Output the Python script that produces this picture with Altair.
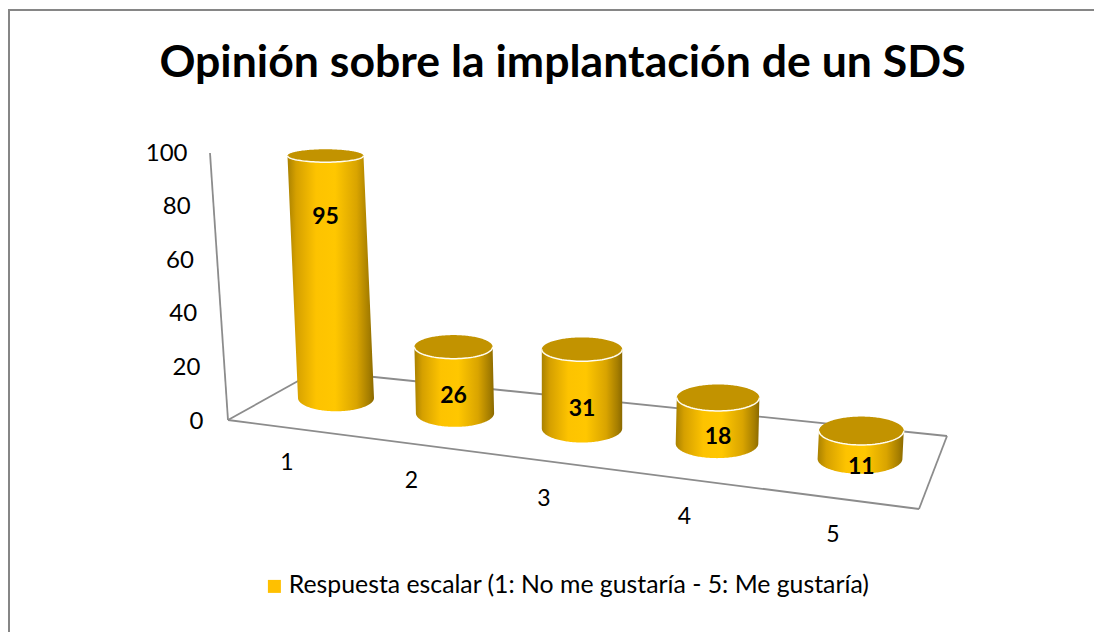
import math
import altair as alt
import pandas as pd

categories = ["1", "2", "3", "4", "5"]
values = [95, 26, 31, 18, 11]
y_ticks = [0, 20, 40, 60, 80, 100]
series_name = "Respuesta escalar (1: No me gustaría - 5: Me gustaría)"
title_text = "Opinión sobre la implantación de un SDS"

FONT = "Lato"
GOLD = "#ffc000"
LID = "#c29300"
LINE = "#8c8c8c"

# page-pixel frame of the 3D projection
PAGE_R, PAGE_B = 1094, 632
ZERO_Y, PX_PER_AXIS_UNIT = 421, 2.68
BAR_PX_PER_UNIT = 2.55
LABEL_LIFT = [181, 17, 19, 7, -8]


def v(py):
    return (ZERO_Y - py) / PX_PER_AXIS_UNIT


def base_x(i):
    return 336 + 119 * i + 4 * i * (i - 1)


def base_y(i):
    return 398 + 15.2 * i


def rx(i):
    return 38 + 1.1 * i


def ry(py):
    return 6.5 + (py - 157) * 0.028


def top_x(i, val):
    return base_x(i) + (base_x(i) - 582) * 0.00045 * val


def top_y(i, val):
    return base_y(i) - BAR_PX_PER_UNIT * val


N = 48
body, lid, rim, labels, ticks = [], [], [], [], []
for i, (cat, val) in enumerate(zip(categories, values)):
    bx, by, tx, ty = base_x(i), base_y(i), top_x(i, val), top_y(i, val)
    r, rb, rt = rx(i), ry(by), ry(ty)
    ys = [ty + (by - ty) * k / N for k in range(N + 1)]
    ys += [by + rb * math.sin(math.pi / 2 * k / N) for k in range(1, N + 1)]
    for py in ys:
        if py <= by:
            cx = tx + (bx - tx) * (py - ty) / max(by - ty, 1)
            hw = r
        else:
            cx = bx
            hw = r * math.sqrt(max(0.0, 1 - ((py - by) / rb) ** 2))
        body.append(dict(cat=cat, y=v(py), x=cx - hw, x2=cx + hw))
    for k in range(N * 2 + 1):
        a = -math.pi / 2 + math.pi * k / (N * 2)
        py = ty + rt * math.sin(a)
        hw = r * math.cos(a)
        lid.append(dict(cat=cat, y=v(py), x=tx - hw, x2=tx + hw))
    for k in range(N + 1):
        a = math.pi * k / N
        rim.append(dict(cat=cat, k=k, y=v(ty + rt * math.sin(a)), x=tx + r * math.cos(a)))
    labels.append(dict(x=tx, y=v(by - LABEL_LIFT[i]), text=str(val)))
    ticks.append(dict(x=bx - 49 + 5.5 * i, y=v(463 + 18 * i), text=cat))

x_scale = alt.Scale(domain=[8, PAGE_R], range=[0, PAGE_R - 8], nice=False, zero=False)
y_scale = alt.Scale(domain=[v(PAGE_B), v(8)], nice=False, zero=False)
X = alt.X("x:Q", scale=x_scale, axis=None)
X2 = alt.X2("x2:Q")
Y = alt.Y(
    "y:Q",
    scale=y_scale,
    title=None,
    axis=alt.Axis(
        values=y_ticks,
        orient="left",
        offset=-212,
        domain=False,
        ticks=False,
        grid=False,
        labelFont=FONT,
        labelFontSize=24,
        labelColor="black",
        labelPadding=alt.ExprRef("17 + datum.value * 0.16"),
    ),
)

frame_df = pd.DataFrame([
    dict(x=9, x2=9, y=v(9), y2=v(PAGE_B)),
    dict(x=8, x2=PAGE_R, y=v(10), y2=v(10)),
])
frame = alt.Chart(frame_df).mark_rule(color="#868686", strokeWidth=2).encode(
    x=X, x2=X2, y=Y, y2="y2:Q"
)

floor_df = pd.DataFrame([
    dict(x=210, x2=228, y=v(153), y2=v(420)),
    dict(x=228, x2=316, y=v(420), y2=v(371)),
    dict(x=316, x2=947, y=v(371), y2=v(436)),
    dict(x=947, x2=919, y=v(436), y2=v(509)),
    dict(x=919, x2=228, y=v(509), y2=v(420)),
])
floor = alt.Chart(floor_df).mark_rule(color=LINE, strokeWidth=1.8).encode(
    x=X, x2=X2, y=Y, y2="y2:Q"
)

gold = alt.Gradient(
    gradient="linear", x1=0, x2=1, y1=0, y2=0,
    stops=[
        alt.GradientStop(offset=0, color="#a98100"),
        alt.GradientStop(offset=0.1, color="#d5a000"),
        alt.GradientStop(offset=0.33, color="#fdc300"),
        alt.GradientStop(offset=0.55, color="#ffc700"),
        alt.GradientStop(offset=0.8, color="#d9a400"),
        alt.GradientStop(offset=0.94, color="#a67e00"),
        alt.GradientStop(offset=1, color="#8a6900"),
    ],
)

layers = [frame, floor]
for cat in categories:
    d_body = pd.DataFrame([r for r in body if r["cat"] == cat])
    d_lid = pd.DataFrame([r for r in lid if r["cat"] == cat])
    d_rim = pd.DataFrame([r for r in rim if r["cat"] == cat])
    layers.append(
        alt.Chart(d_body).mark_area(orient="horizontal", fill=gold).encode(
            x=X, x2=X2, y=Y
        )
    )
    layers.append(
        alt.Chart(d_lid).mark_area(orient="horizontal", color=LID).encode(
            x=X, x2=X2, y=Y
        )
    )
    layers.append(
        alt.Chart(d_rim).mark_line(color="#fffdf2", strokeWidth=1.5).encode(
            x=X, y=Y, order="k:Q"
        )
    )

value_labels = alt.Chart(pd.DataFrame(labels)).mark_text(
    font=FONT, fontSize=23, fontWeight="bold", color="black"
).encode(x=X, y=Y, text="text:N")

cat_labels = alt.Chart(pd.DataFrame(ticks)).mark_text(
    font=FONT, fontSize=23, color="black"
).encode(x=X, y=Y, text="text:N")

legend_layer = alt.Chart(pd.DataFrame({"series": [series_name], "x": [228], "y": [0]})).mark_square(
    size=0, filled=True, opacity=1
).encode(
    x=X,
    y=Y,
    color=alt.Color(
        "series:N",
        scale=alt.Scale(domain=[series_name], range=[GOLD]),
        legend=alt.Legend(
            title=None,
            orient="none",
            legendX=254,
            legendY=566,
            symbolType="square",
            symbolSize=169,
            symbolStrokeWidth=0,
            symbolOpacity=1,
            labelFont=FONT,
            labelFontSize=24.8,
            labelColor="black",
            labelLimit=800,
            labelOffset=2,
        ),
    ),
)

chart = alt.layer(
    *layers, value_labels, cat_labels, legend_layer
).properties(
    width=PAGE_R - 8,
    height=PAGE_B - 8,
    padding=0,
    autosize=alt.AutoSizeParams(type="none"),
    title=alt.TitleParams(
        title_text, font=FONT, fontSize=44.6, fontWeight="bold", color="black",
        anchor="middle", frame="group", offset=-78.5, dx=11.5,
    ),
).configure_view(stroke=None)

chart.save("out.html", embed_options={"renderer": "svg", "actions": False})
